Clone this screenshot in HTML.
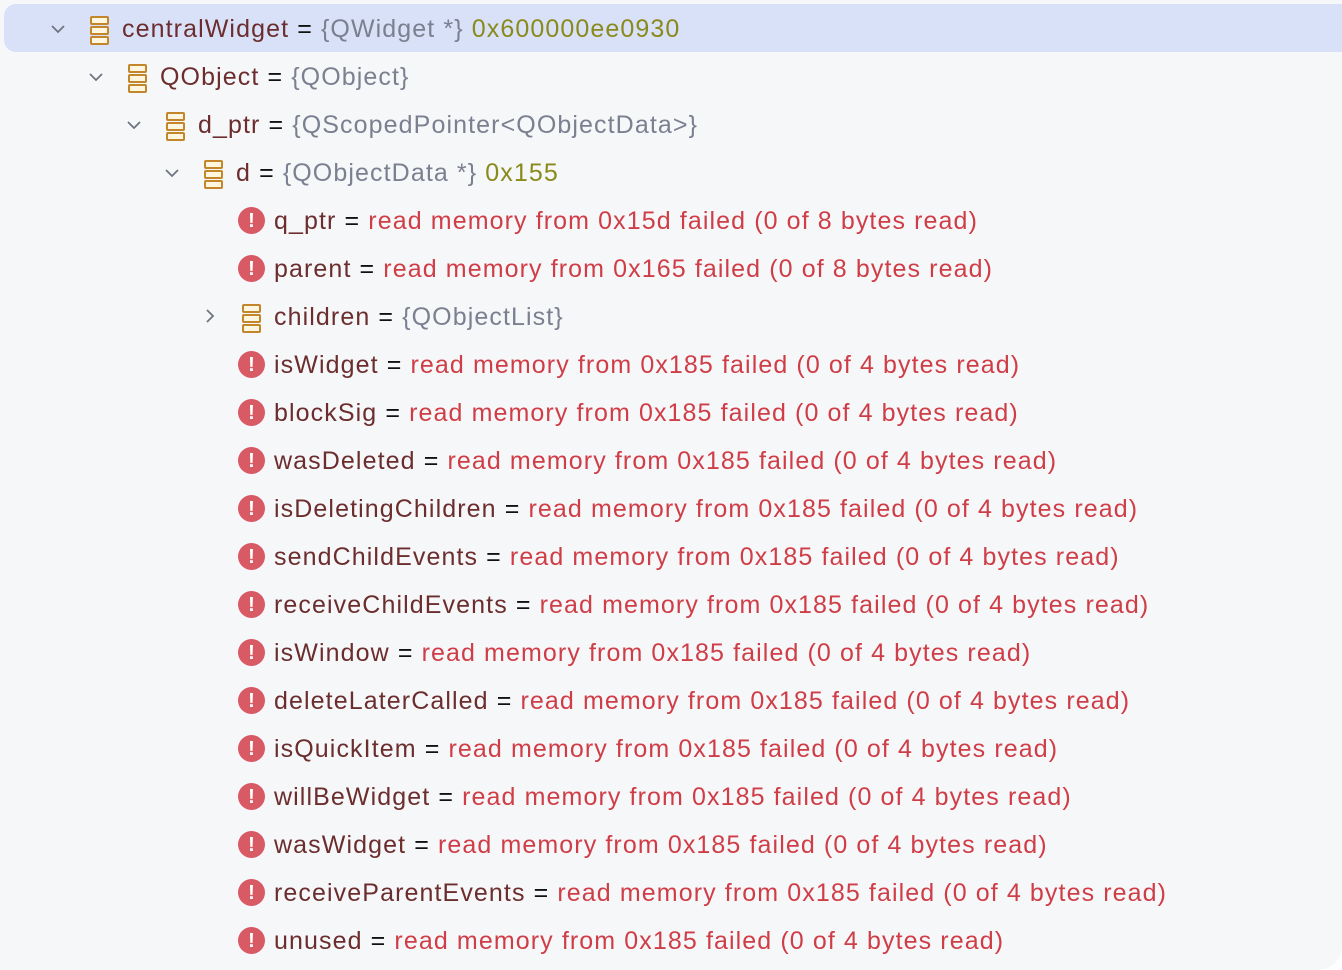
<!DOCTYPE html>
<html><head><meta charset="utf-8"><style>
html,body{margin:0;padding:0;background:#fff;}
#p{position:relative;width:1342px;height:970px;background:#f6f7f9;border-radius:0 0 24px 0;overflow:hidden;font-family:"Liberation Sans",sans-serif;font-size:25px;letter-spacing:1.1px;}
.hl{position:absolute;left:4px;top:4px;width:1338px;height:48px;background:#d8e1f8;border-radius:12px 0 0 12px;}
.r{position:absolute;height:48px;line-height:48px;white-space:nowrap;}
.n{color:#6b2d2d}.e{color:#111}.t{color:#7b8090}.a{color:#8a8a1c}.x{color:#cf3d47}
.ic{position:absolute;width:19px;height:26px;}
.ic i{display:block;height:5px;border:2px solid #c3862a;border-radius:2px;margin-bottom:1px;background:#fff6e0;}
.er{position:absolute;width:27px;height:27px;border-radius:50%;background:#d85a64;color:#fff;font-weight:bold;font-size:20px;line-height:28px;text-align:center;letter-spacing:0;}
svg.c{position:absolute;}
</style></head><body><div id="p">
<div class="hl"></div>

<svg class="c" style="left:50px;top:21px" width="16" height="16"><path d="M2 5 L8 11 L14 5" stroke="#6f7480" stroke-width="1.8" fill="none"/></svg>
<div class="ic" style="left:90px;top:16px"><i></i><i></i><i></i></div>
<div class="r" style="left:122px;top:5px"><span class="n">centralWidget</span> <span class="e">=</span> <span class="t">{QWidget *}</span> <span class="a">0x600000ee0930</span></div>

<svg class="c" style="left:88px;top:69px" width="16" height="16"><path d="M2 5 L8 11 L14 5" stroke="#6f7480" stroke-width="1.8" fill="none"/></svg>
<div class="ic" style="left:128px;top:64px"><i></i><i></i><i></i></div>
<div class="r" style="left:160px;top:53px"><span class="n">QObject</span> <span class="e">=</span> <span class="t">{QObject}</span></div>

<svg class="c" style="left:126px;top:117px" width="16" height="16"><path d="M2 5 L8 11 L14 5" stroke="#6f7480" stroke-width="1.8" fill="none"/></svg>
<div class="ic" style="left:166px;top:112px"><i></i><i></i><i></i></div>
<div class="r" style="left:198px;top:101px"><span class="n">d_ptr</span> <span class="e">=</span> <span class="t">{QScopedPointer&lt;QObjectData&gt;}</span></div>

<svg class="c" style="left:164px;top:165px" width="16" height="16"><path d="M2 5 L8 11 L14 5" stroke="#6f7480" stroke-width="1.8" fill="none"/></svg>
<div class="ic" style="left:204px;top:160px"><i></i><i></i><i></i></div>
<div class="r" style="left:236px;top:149px"><span class="n">d</span> <span class="e">=</span> <span class="t">{QObjectData *}</span> <span class="a">0x155</span></div>

<div class="er" style="left:238px;top:207px">!</div>
<div class="r" style="left:274px;top:197px"><span class="n">q_ptr</span> <span class="e">=</span> <span class="x">read memory from 0x15d failed (0 of 8 bytes read)</span></div>
<div class="er" style="left:238px;top:255px">!</div>
<div class="r" style="left:274px;top:245px"><span class="n">parent</span> <span class="e">=</span> <span class="x">read memory from 0x165 failed (0 of 8 bytes read)</span></div>

<svg class="c" style="left:202px;top:308px" width="16" height="16"><path d="M5 2 L11 8 L5 14" stroke="#6f7480" stroke-width="1.8" fill="none"/></svg>
<div class="ic" style="left:242px;top:304px"><i></i><i></i><i></i></div>
<div class="r" style="left:274px;top:293px"><span class="n">children</span> <span class="e">=</span> <span class="t">{QObjectList}</span></div>

<div class="er" style="left:238px;top:351px">!</div>
<div class="r" style="left:274px;top:341px"><span class="n">isWidget</span> <span class="e">=</span> <span class="x">read memory from 0x185 failed (0 of 4 bytes read)</span></div>
<div class="er" style="left:238px;top:399px">!</div>
<div class="r" style="left:274px;top:389px"><span class="n">blockSig</span> <span class="e">=</span> <span class="x">read memory from 0x185 failed (0 of 4 bytes read)</span></div>
<div class="er" style="left:238px;top:447px">!</div>
<div class="r" style="left:274px;top:437px"><span class="n">wasDeleted</span> <span class="e">=</span> <span class="x">read memory from 0x185 failed (0 of 4 bytes read)</span></div>
<div class="er" style="left:238px;top:495px">!</div>
<div class="r" style="left:274px;top:485px"><span class="n">isDeletingChildren</span> <span class="e">=</span> <span class="x">read memory from 0x185 failed (0 of 4 bytes read)</span></div>
<div class="er" style="left:238px;top:543px">!</div>
<div class="r" style="left:274px;top:533px"><span class="n">sendChildEvents</span> <span class="e">=</span> <span class="x">read memory from 0x185 failed (0 of 4 bytes read)</span></div>
<div class="er" style="left:238px;top:591px">!</div>
<div class="r" style="left:274px;top:581px"><span class="n">receiveChildEvents</span> <span class="e">=</span> <span class="x">read memory from 0x185 failed (0 of 4 bytes read)</span></div>
<div class="er" style="left:238px;top:639px">!</div>
<div class="r" style="left:274px;top:629px"><span class="n">isWindow</span> <span class="e">=</span> <span class="x">read memory from 0x185 failed (0 of 4 bytes read)</span></div>
<div class="er" style="left:238px;top:687px">!</div>
<div class="r" style="left:274px;top:677px"><span class="n">deleteLaterCalled</span> <span class="e">=</span> <span class="x">read memory from 0x185 failed (0 of 4 bytes read)</span></div>
<div class="er" style="left:238px;top:735px">!</div>
<div class="r" style="left:274px;top:725px"><span class="n">isQuickItem</span> <span class="e">=</span> <span class="x">read memory from 0x185 failed (0 of 4 bytes read)</span></div>
<div class="er" style="left:238px;top:783px">!</div>
<div class="r" style="left:274px;top:773px"><span class="n">willBeWidget</span> <span class="e">=</span> <span class="x">read memory from 0x185 failed (0 of 4 bytes read)</span></div>
<div class="er" style="left:238px;top:831px">!</div>
<div class="r" style="left:274px;top:821px"><span class="n">wasWidget</span> <span class="e">=</span> <span class="x">read memory from 0x185 failed (0 of 4 bytes read)</span></div>
<div class="er" style="left:238px;top:879px">!</div>
<div class="r" style="left:274px;top:869px"><span class="n">receiveParentEvents</span> <span class="e">=</span> <span class="x">read memory from 0x185 failed (0 of 4 bytes read)</span></div>
<div class="er" style="left:238px;top:927px">!</div>
<div class="r" style="left:274px;top:917px"><span class="n">unused</span> <span class="e">=</span> <span class="x">read memory from 0x185 failed (0 of 4 bytes read)</span></div>
</div></body></html>
